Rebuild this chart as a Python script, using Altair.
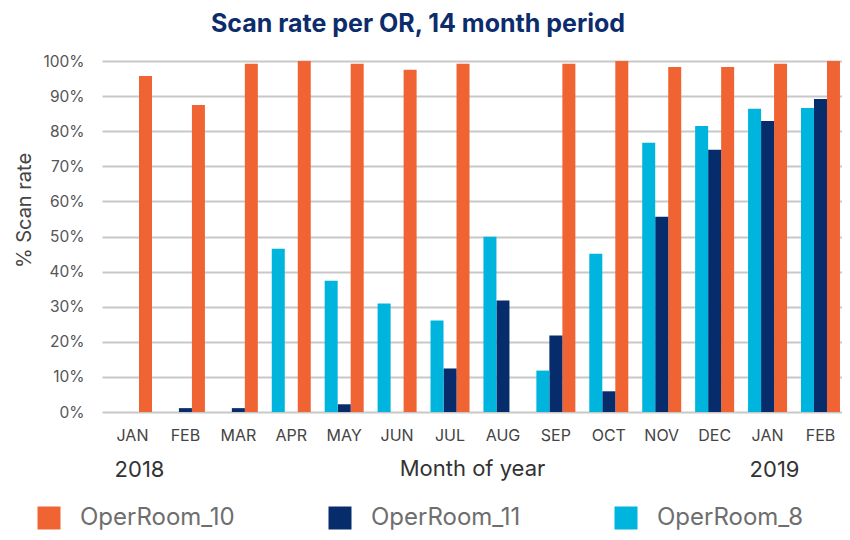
import altair as alt
import pandas as pd

months = ["JAN", "FEB", "MAR", "APR", "MAY", "JUN", "JUL", "AUG", "SEP", "OCT", "NOV", "DEC", "JAN", "FEB"]
years = [2018] * 12 + [2019] * 2
keys = [f"{m} {y}" for m, y in zip(months, years)]

series_names = ["OperRoom_10", "OperRoom_11", "OperRoom_8"]
or10 = [95.7, 87.5, 99.2, 100, 99.2, 97.5, 99.2, None, 99.2, 100, 98.3, 98.3, 99.2, 100]
or11 = [None, 1.1, 1.1, None, 2.2, None, 12.4, 31.8, 21.8, 5.9, 55.6, 74.7, 82.9, 89.2]
or8 = [None, None, None, 46.5, 37.4, 30.9, 26.1, 49.9, 11.8, 45.1, 76.7, 81.5, 86.4, 86.6]
colors = ["#F06433", "#062C6B", "#00B5DD"]

year_keys = ["JAN 2018", "JAN 2019"]
year_labels = ["2018", "2019"]

rows = []
for name, vals in zip(series_names, [or10, or11, or8]):
    for k, v in zip(keys, vals):
        if v is not None:
            rows.append({"key": k, "series": name, "value": v})
df = pd.DataFrame(rows)
ydf = pd.DataFrame({"key": year_keys, "label": year_labels})

FONT = "Inter"

xscale = alt.Scale(domain=keys, paddingInner=0.263, paddingOuter=0.123, align=0.845)

bars = alt.Chart(df).mark_bar().encode(
    x=alt.X("key:N", scale=xscale, sort=keys,
            axis=alt.Axis(title="Month of year", labelExpr="split(datum.label, ' ')[0]",
                          labelAngle=0, labelFontSize=16, labelColor="#444444",
                          labelPadding=15, ticks=False, domain=False, grid=False,
                          titleFontSize=22, titleColor="#333333", titleFontWeight="normal",
                          titlePadding=15)),
    xOffset=alt.XOffset("series:N", sort=["OperRoom_8", "OperRoom_11", "OperRoom_10"],
                        scale=alt.Scale(domain=["OperRoom_8", "OperRoom_11", "OperRoom_10"],
                                        paddingInner=0, paddingOuter=0)),
    y=alt.Y("value:Q", scale=alt.Scale(domain=[0, 100], nice=False),
            axis=alt.Axis(title="% Scan rate", values=list(range(0, 101, 10)),
                          labelExpr="datum.value + '%'", labelFontSize=15.5,
                          labelColor="#555555", labelPadding=18, ticks=False, domain=False,
                          gridColor="#c8c8c8", gridWidth=1.8,
                          titleFontSize=20, titleColor="#444444", titleFontWeight="normal",
                          titleX=-68, titleY=149)),
    color=alt.Color("series:N",
                    scale=alt.Scale(domain=series_names, range=colors),
                    legend=alt.Legend(title=None, orient="none", direction="horizontal",
                                      legendX=-65, legendY=445, symbolType="square",
                                      symbolSize=529, symbolStrokeWidth=0, symbolOpacity=1,
                                      labelFontSize=24, labelColor="#6e6e6e", labelOffset=19,
                                      columnPadding=93, padding=0, columns=3)),
)

year_text = alt.Chart(ydf).mark_text(fontSize=22, color="#333333", baseline="alphabetic",
                                     align="center", font=FONT, dx=7).encode(
    x=alt.X("key:N", scale=xscale, sort=keys),
    y=alt.value(416),
    text="label:N",
)

chart = alt.layer(bars, year_text).properties(
    width=740,
    height=351,
    title=alt.TitleParams("Scan rate per OR, 14 month period", fontSize=25, fontWeight="bold",
                          color="#0C2C6C", font=FONT, anchor="middle", frame="group",
                          baseline="alphabetic", offset=2, dx=-54, dy=5),
    autosize=alt.AutoSizeParams(type="none"),
    padding={"left": 94, "top": 53, "right": 0, "bottom": 120},
).configure(font=FONT).configure_view(stroke=None)

chart.save("out.html", embed_options={"renderer": "svg", "actions": False})
